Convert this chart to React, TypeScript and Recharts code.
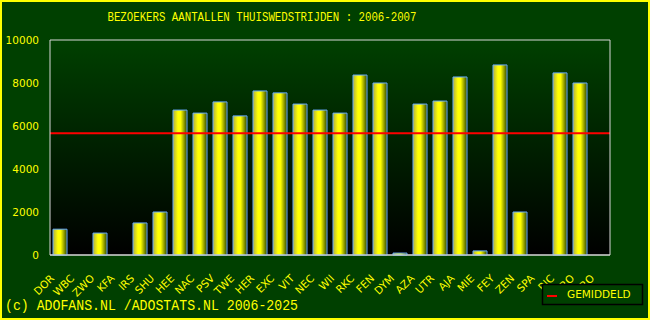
import { BarChart, Bar, XAxis, YAxis, CartesianGrid, ReferenceLine } from "recharts";

document.body.style.margin = "0";

const teams = ["DOR", "WBC", "ZWO", "KFA", "IRS", "SHU", "HEE", "NAC", "PSV", "TWE", "HER", "EXC", "VIT", "NEC", "WII", "RKC", "FEN", "DYM", "AZA", "UTR", "AJA", "MIE", "FEY", "ZEN", "SPA", "RJC", "GRO", "GRO"];
const visitors = [1200, 0, 1020, 0, 1490, 2000, 6740, 6600, 7120, 6470, 7630, 7540, 7020, 6740, 6600, 8370, 8000, 90, 7020, 7160, 8280, 190, 8840, 2000, 0, 8470, 8000, 0];
const yTicks = [0, 2000, 4000, 6000, 8000, 10000];
const average = 5660;

const data = teams.map((t, i) => ({ team: t, value: visitors[i] }));

const YELLOW = "#ffff00";
const FONT = "'DejaVu Sans', sans-serif";
const MONO = "'Liberation Mono', monospace";

function TeamTick(props: any) {
  const { x, y, payload } = props;
  const tx = x - 5;
  const ty = y + 16;
  return (
    <text
      x={tx}
      y={ty}
      transform={`rotate(-45 ${tx} ${ty})`}
      textAnchor="end"
      fill={YELLOW}
      fontSize={10.5}
      fontFamily={FONT}
    >
      {payload.value}
    </text>
  );
}

export default function App() {
  return (
    <div style={{ position: "relative", width: 650, height: 320, background: "#004000" }}>
      <BarChart
        width={650}
        height={320}
        data={data}
        margin={{ top: 40, right: 0, bottom: 0, left: 0 }}
        barCategoryGap={0}
      >
        <defs>
          <linearGradient id="plotBg" x1="0" y1="0" x2="0" y2="1">
            <stop offset="0%" stopColor="#004000" />
            <stop offset="100%" stopColor="#000000" />
          </linearGradient>
          <linearGradient id="barFill" x1="0" y1="0" x2="1" y2="0">
            <stop offset="0%" stopColor="#b0b040" />
            <stop offset="35%" stopColor="#ffff00" />
            <stop offset="55%" stopColor="#ffff00" />
            <stop offset="100%" stopColor="#304800" />
          </linearGradient>
        </defs>
        <CartesianGrid vertical={false} stroke="#d8d8d8" strokeWidth={1} fill="url(#plotBg)" fillOpacity={1} />
        <XAxis
          dataKey="team"
          interval={0}
          height={65}
          tickLine={false}
          axisLine={{ stroke: "#d8d8d8" }}
          tick={<TeamTick />}
        />
        <YAxis
          yAxisId="left"
          width={50}
          domain={[0, 10000]}
          ticks={yTicks}
          tickLine={false}
          tickSize={0}
          tickMargin={11}
          axisLine={{ stroke: "#d8d8d8" }}
          tick={{ fill: YELLOW, fontSize: 10.5, fontFamily: FONT }}
        />
        <YAxis
          yAxisId="right"
          orientation="right"
          width={40}
          domain={[0, 10000]}
          ticks={yTicks}
          tick={false}
          tickLine={false}
          axisLine={{ stroke: "#d8d8d8" }}
        />
        <Bar
          yAxisId="left"
          dataKey="value"
          barSize={14}
          fill="url(#barFill)"
          stroke="#66aaff"
          strokeWidth={1}
          isAnimationActive={false}
        />
        <ReferenceLine yAxisId="left" y={average} stroke="#ff0000" strokeWidth={2} />
      </BarChart>
      <svg width={650} height={320} style={{ position: "absolute", left: 0, top: 0, pointerEvents: "none" }}>
        <rect x={1} y={1} width={648} height={318} fill="none" stroke={YELLOW} strokeWidth={2} />
        <text x={262} y={21} textAnchor="middle" fill={YELLOW} fontSize={13} fontFamily={MONO} textLength={309} lengthAdjust="spacingAndGlyphs">
          BEZOEKERS AANTALLEN THUISWEDSTRIJDEN : 2006-2007
        </text>
        <text x={5} y={310} fill={YELLOW} fontSize={14} fontFamily={MONO} textLength={293} lengthAdjust="spacingAndGlyphs">
          (c) ADOFANS.NL /ADOSTATS.NL 2006-2025
        </text>
        <rect x={542.5} y={284.5} width={100} height={20} fill="#004000" stroke="#000000" strokeWidth={1.5} />
        <line x1={547} y1={296} x2={557} y2={296} stroke="#ff0000" strokeWidth={2} />
        <text x={567} y={298} fill={YELLOW} fontSize={10.5} fontFamily={FONT}>
          GEMIDDELD
        </text>
      </svg>
    </div>
  );
}
